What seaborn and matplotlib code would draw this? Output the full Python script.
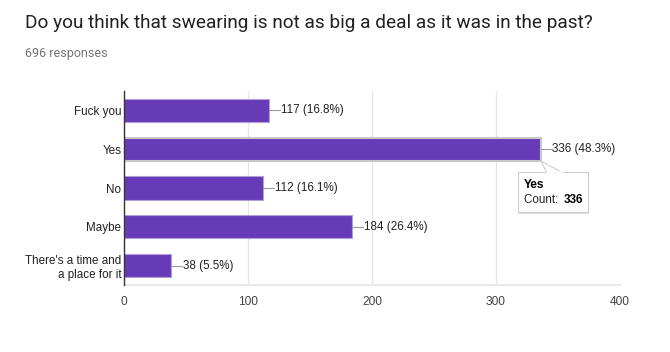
import matplotlib
matplotlib.use("Agg")
import matplotlib.pyplot as plt
import seaborn as sns
import pandas as pd
from matplotlib.patches import Polygon, FancyBboxPatch
from matplotlib.transforms import offset_copy

categories = ["Fuck you", "Yes", "No", "Maybe", "There's a time and\na place for it"]
counts = [117, 336, 112, 184, 38]
percents = ["16.8%", "48.3%", "16.1%", "26.4%", "5.5%"]
x_ticks = [0, 100, 200, 300, 400]
title = "Do you think that swearing is not as big a deal as it was in the past?"
subtitle = "696 responses"

sns.set_theme(style="white")
plt.rcParams['font.family'] = ['Liberation Sans', 'DejaVu Sans']

df = pd.DataFrame({"category": categories, "count": counts})

fig = plt.figure(figsize=(6.7, 3.52), dpi=100)
ax = fig.add_axes([124/670, 1-285/352, 496/670, 194/352])

sns.barplot(data=df, y="category", x="count", orient="h", color="#673ab7",
            saturation=1, width=0.6, ax=ax, edgecolor="#b39ddb", linewidth=0.8, zorder=3)

# highlight hovered bar
ax.patches[1].set_edgecolor("#c8c8c8")
ax.patches[1].set_linewidth(1.5)

ax.set_xlim(0, 400)
ax.set_ylim(4.5, -0.5)
ax.set_xticks(x_ticks)
ax.set_xticklabels([str(t) for t in x_ticks], fontsize=8.6, color="#444444")
ax.tick_params(axis="x", length=0, pad=8)
ax.tick_params(axis="y", length=0, pad=2, labelsize=8.4, labelcolor="#222222")
for lbl in ax.get_yticklabels():
    lbl.set_horizontalalignment("right")
ax.set_xlabel("")
ax.set_ylabel("")
ax.grid(axis="x", color="#e6e6e6", linewidth=0.9, zorder=0)
for s in ["top", "right"]:
    ax.spines[s].set_visible(False)
ax.spines["bottom"].set_color("#e6e6e6")
ax.spines["left"].set_color("#333333")
ax.spines["left"].set_linewidth(1.0)
ax.spines["left"].set_zorder(4)

for i, (c, p) in enumerate(zip(counts, percents)):
    ax.plot([c, c + 9], [i, i], color="#999999", linewidth=0.8, zorder=3, clip_on=False)
    ax.text(c + 9.5, i, f"{c} ({p})", va="center", ha="left", fontsize=8.4, color="#222222")

# tooltip
tx0, tx1 = 317.5, 374.0
ty0, ty1 = 1.60, 2.63
shadow = FancyBboxPatch((tx0 + 1.2, ty0 + 0.04), tx1 - tx0, ty1 - ty0, boxstyle="square,pad=0",
                        facecolor="#dddddd", edgecolor="none", zorder=5)
box = FancyBboxPatch((tx0, ty0), tx1 - tx0, ty1 - ty0, boxstyle="square,pad=0",
                     facecolor="white", edgecolor="#cccccc", linewidth=0.8, zorder=6)
ax.add_patch(shadow)
ax.add_patch(box)
ptr = Polygon([[341, ty0 + 0.01], [336.5, 1.31], [354, ty0 + 0.01]], closed=False,
              facecolor="white", edgecolor="#cccccc", linewidth=0.8, zorder=7)
ax.add_patch(ptr)
ax.plot([341.3, 353.7], [ty0, ty0], color="white", linewidth=1.2, zorder=8)
ax.text(tx0 + 5, ty0 + 0.31, "Yes", fontsize=8.6, fontweight="bold", color="#000000",
        va="center", ha="left", zorder=9)
t_count = ax.text(tx0 + 5, ty0 + 0.72, "Count: ", fontsize=8.4, color="#222222",
                  va="center", ha="left", zorder=9)
fig.canvas.draw()
w = t_count.get_window_extent(fig.canvas.get_renderer()).width
tr = offset_copy(ax.transData, fig=fig, x=w * 72 / fig.dpi + 1.5, y=0, units="points")
ax.text(tx0 + 5, ty0 + 0.72, "336", fontsize=8.4, fontweight="bold", color="#000000",
        va="center", ha="left", zorder=9, transform=tr)

fig.text(25/670, 1-28/352, title, fontsize=13.7, color="#212121", va="baseline", ha="left",
         family=["Roboto", "DejaVu Sans"])
fig.text(25/670, 1-57/352, subtitle, fontsize=9, color="#757575", va="baseline", ha="left",
         family=["Roboto", "DejaVu Sans"])

fig.savefig("out.png", dpi=100, facecolor="white")
